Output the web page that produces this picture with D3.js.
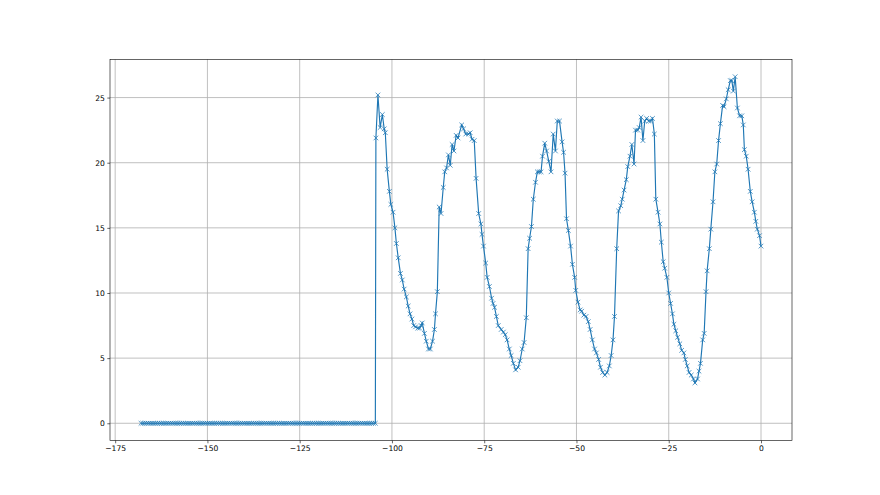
<!DOCTYPE html>
<meta charset="utf-8">
<script src="https://d3js.org/d3.v7.min.js"></script>
<style>
  body { margin: 0; background: #fff; }
  svg { display: block; }
  .tick text { font-family: "DejaVu Sans", sans-serif; font-size: 7.6px; fill: #000; }
</style>
<body>
<svg id="chart" width="880" height="495"></svg>
<script>
// hours before now (x) and readings (y)
const zeroHours = [
  -168,-167.5,-167,-166.5,-166,-165.5,-165,-164.5,-164,-163.5,-163,-162.5,-162,-161.5,-161,-160.5,
  -160,-159.5,-159,-158.5,-158,-157.5,-157,-156.5,-156,-155.5,-155,-154.5,-154,-153.5,-153,-152.5,
  -152,-151.5,-151,-150.5,-150,-149.5,-149,-148.5,-148,-147.5,-147,-146.5,-146,-145.5,-145,-144.5,
  -144,-143.5,-143,-142.5,-142,-141.5,-141,-140.5,-140,-139.5,-139,-138.5,-138,-137.5,-137,-136.5,
  -136,-135.5,-135,-134.5,-134,-133.5,-133,-132.5,-132,-131.5,-131,-130.5,-130,-129.5,-129,-128.5,
  -128,-127.5,-127,-126.5,-126,-125.5,-125,-124.5,-124,-123.5,-123,-122.5,-122,-121.5,-121,-120.5,
  -120,-119.5,-119,-118.5,-118,-117.5,-117,-116.5,-116,-115.5,-115,-114.5,-114,-113.5,-113,-112.5,
  -112,-111.5,-111,-110.5,-110,-109.5,-109,-108.5,-108,-107.5,-107,-106.5,-106,-105.5,-105,-104.5
];
const zeroValues = zeroHours.map(() => 0);

const activeHours = [
  -104.35,-103.8,-103.2,-102.6,-102.1,-101.8,-101.3,-100.7,-100.3,-99.7,-99.2,-98.8,-98.3,-97.7,-97.2,-96.7,
  -96.1,-95.6,-95.1,-94.6,-94.1,-93.6,-93.0,-92.5,-92.1,-91.8,-91.2,-90.7,-90.1,-89.6,-89.0,-88.5,
  -88.2,-87.7,-87.2,-86.7,-86.1,-85.7,-85.2,-84.7,-84.2,-83.7,-83.2,-82.6,-82.1,-81.1,-80.6,-80.0,
  -79.3,-78.8,-78.3,-77.7,-77.2,-76.5,-75.9,-75.6,-75.2,-74.6,-74.2,-73.6,-73.0,-72.6,-72.2,-71.7,
  -71.2,-70.4,-69.8,-69.3,-68.8,-68.2,-67.7,-67.1,-66.5,-65.8,-65.3,-64.7,-64.2,-63.6,-63.1,-62.7,
  -62.2,-61.7,-61.1,-60.6,-60.1,-59.6,-59.2,-58.6,-58.1,-57.5,-56.9,-56.3,-55.7,-55.2,-54.6,-53.9,
  -53.5,-53.1,-52.7,-52.2,-51.6,-51.1,-50.5,-50.2,-49.6,-49.0,-48.6,-48.0,-47.4,-46.8,-46.3,-45.7,
  -45.1,-44.6,-44.0,-43.5,-42.9,-42.3,-41.7,-41.1,-40.6,-40.1,-39.7,-39.1,-38.6,-38.0,-37.6,-37.1,
  -36.5,-36.1,-35.5,-35.0,-34.4,-34.0,-33.4,-33.0,-32.5,-32.0,-31.5,-31.0,-30.4,-29.9,-29.4,-28.9,
  -28.5,-27.9,-27.4,-27.0,-26.5,-26.1,-25.5,-25.0,-24.5,-24.0,-23.6,-23.1,-22.6,-22.0,-21.5,-20.9,
  -20.5,-20.0,-19.5,-18.9,-18.3,-17.9,-17.2,-16.8,-16.4,-15.8,-15.4,-14.9,-14.6,-14.0,-13.6,-13.0,
  -12.5,-12.0,-11.5,-11.0,-10.4,-10.0,-9.4,-8.9,-8.3,-7.9,-7.5,-7.0,-6.4,-5.8,-5.2,-4.8,
  -4.5,-4.0,-3.5,-2.9,-2.4,-1.8,-1.4,-1.0,-0.4,0
];
const activeValues = [
  21.9,25.2,22.7,23.7,22.6,22.3,19.5,17.8,16.8,16.2,15.0,13.8,12.7,11.5,11.0,10.3,
  9.7,9.0,8.4,8.0,7.5,7.4,7.3,7.3,7.5,7.7,6.9,6.3,5.7,5.7,6.3,7.2,
  8.4,10.1,16.6,16.1,18.1,19.3,19.6,20.6,19.8,21.4,20.9,22.1,21.9,22.9,22.6,22.2,
  22.2,22.3,21.8,21.7,18.8,16.1,15.3,14.5,13.6,12.3,11.2,10.5,9.6,9.2,8.9,8.2,
  7.5,7.2,7.0,6.8,6.4,5.7,5.2,4.6,4.1,4.3,4.8,5.7,6.2,8.1,13.4,14.2,
  15.1,17.2,18.5,19.3,19.3,19.3,20.5,21.5,20.9,20.1,19.3,22.2,20.9,23.2,23.2,21.6,
  20.8,19.2,15.7,14.8,13.6,12.2,11.2,10.2,9.3,8.7,8.6,8.3,8.2,7.8,7.2,6.4,
  5.7,5.4,4.9,4.3,3.9,3.7,3.9,4.4,5.2,6.4,8.2,13.4,16.3,16.7,17.2,17.9,
  18.7,19.7,20.5,21.4,19.9,22.5,22.5,22.7,23.5,21.7,23.2,23.4,23.2,23.2,23.4,22.2,
  17.2,16.2,15.3,13.9,12.4,11.9,11.2,10.0,9.2,8.4,7.6,7.1,6.6,6.1,5.6,5.4,
  4.9,4.4,3.9,3.7,3.4,3.1,3.4,4.0,4.6,6.4,6.9,10.1,11.7,13.4,14.9,17.0,
  19.3,19.9,21.7,23.0,24.4,24.3,24.9,25.6,26.3,26.3,25.5,26.6,24.2,23.6,23.6,22.9,
  21.0,20.5,19.5,17.8,17.0,16.2,15.5,14.9,14.4,13.6
];
const xTicks = [-175, -150, -125, -100, -75, -50, -25, 0];
const yTicks = [0, 5, 10, 15, 20, 25];

const data = zeroHours.map((h, i) => [h, zeroValues[i]])
  .concat(activeHours.map((h, i) => [h, activeValues[i]]));

const margin = { left: 110, right: 792, top: 59.4, bottom: 440.6 };
const svg = d3.select("#chart");

// matplotlib style 5% margins
const xExt = d3.extent(data, d => d[0]), yExt = d3.extent(data, d => d[1]);
const xPad = (xExt[1] - xExt[0]) * 0.05, yPad = (yExt[1] - yExt[0]) * 0.05;
const x = d3.scaleLinear().domain([xExt[0] - xPad, xExt[1] + xPad]).range([margin.left, margin.right]);
const y = d3.scaleLinear().domain([yExt[0] - yPad, yExt[1] + yPad]).range([margin.bottom, margin.top]);

const fmt = d => String(d).replace("-", "\u2212");

// grid
svg.append("g").selectAll("line").data(xTicks).join("line")
  .attr("x1", d => x(d)).attr("x2", d => x(d))
  .attr("y1", margin.top).attr("y2", margin.bottom)
  .attr("stroke", "#b0b0b0").attr("stroke-width", 0.8);
svg.append("g").selectAll("line").data(yTicks).join("line")
  .attr("x1", margin.left).attr("x2", margin.right)
  .attr("y1", d => y(d)).attr("y2", d => y(d))
  .attr("stroke", "#b0b0b0").attr("stroke-width", 0.8);

// axes
const xAxis = svg.append("g").attr("transform", `translate(0,${margin.bottom})`)
  .call(d3.axisBottom(x).tickValues(xTicks).tickFormat(fmt).tickSize(2.7).tickPadding(2.5));
const yAxis = svg.append("g").attr("transform", `translate(${margin.left},0)`)
  .call(d3.axisLeft(y).tickValues(yTicks).tickFormat(fmt).tickSize(2.7).tickPadding(2.5));
[xAxis, yAxis].forEach(g => {
  g.select(".domain").remove();
  g.selectAll(".tick line").attr("stroke", "#000").attr("stroke-width", 0.6);
});

// line
svg.append("path").datum(data)
  .attr("d", d3.line().x(d => x(d[0])).y(d => y(d[1])))
  .attr("fill", "none").attr("stroke", "#1f77b4").attr("stroke-width", 1.15);

// x markers
const m = 2.3;
svg.append("g").selectAll("path").data(data).join("path")
  .attr("d", d => {
    const px = x(d[0]), py = y(d[1]);
    return `M${px - m},${py - m}L${px + m},${py + m}M${px - m},${py + m}L${px + m},${py - m}`;
  })
  .attr("fill", "none").attr("stroke", "#1f77b4").attr("stroke-width", 0.76);

// spines
svg.append("rect").attr("x", margin.left).attr("y", margin.top)
  .attr("width", margin.right - margin.left).attr("height", margin.bottom - margin.top)
  .attr("fill", "none").attr("stroke", "#000").attr("stroke-width", 0.6);
</script>
</body>
